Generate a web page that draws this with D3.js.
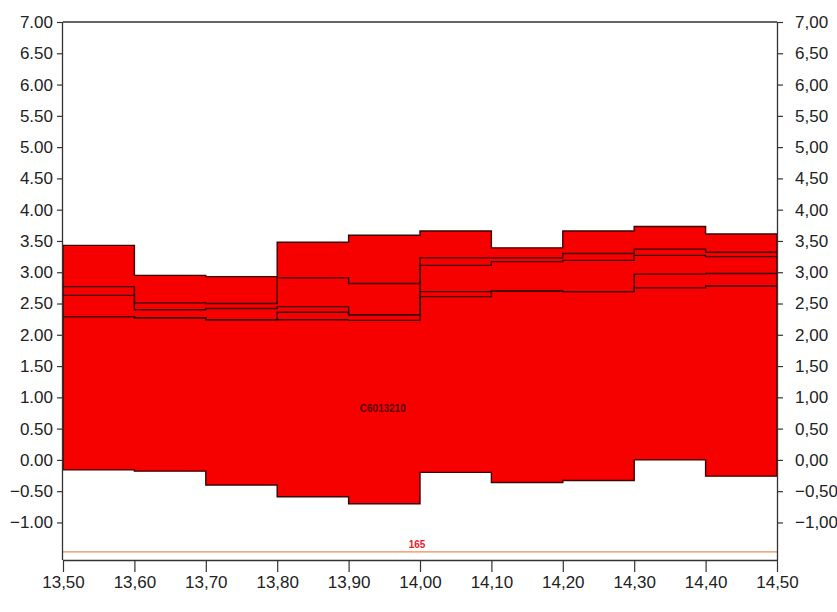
<!DOCTYPE html>
<html>
<head>
<meta charset="utf-8">
<script src="https://cdn.jsdelivr.net/npm/d3@7"></script>
<style>
  html, body { margin: 0; padding: 0; background: #ffffff; }
  svg { display: block; }
  text { font-family: "Liberation Sans", Arial, Helvetica, sans-serif; }
</style>
</head>
<body>
<svg id="chart" width="837" height="612"></svg>
<script>
// Bin start positions (each bin is 0.1 wide)
const binStarts = [13.5, 13.6, 13.7, 13.8, 13.9, 14.0, 14.1, 14.2, 14.3, 14.4];
const binWidth = 0.1;

// Envelope of the filled band
const upperValues = [3.43, 2.95, 2.93, 3.48, 3.59, 3.66, 3.39, 3.66, 3.73, 3.61];
const lowerValues = [-0.16, -0.18, -0.40, -0.59, -0.70, -0.20, -0.36, -0.33, 0.00, -0.26];

// Inner boundary lines, highest to lowest
const innerLine1 = [2.77, 2.51, 2.50, 2.91, 2.82, 3.23, 3.23, 3.30, 3.37, 3.32];
const innerLine2 = [2.63, 2.40, 2.42, 2.45, 2.32, 3.11, 3.17, 3.19, 3.27, 3.25];
const innerLine3 = [2.29, 2.27, 2.24, 2.36, 2.32, 2.69, 2.70, 2.69, 2.97, 2.98];
const innerLine4 = [2.29, 2.27, 2.24, 2.24, 2.23, 2.61, 2.70, 2.69, 2.75, 2.78];

// Reference level and annotations
const referenceLevel = -1.47;
const referenceLabel = "165";
const bandLabel = "C6013210";
const bandLabelPos = [13.948, 0.76];

// Tick labels
const xTicks = [13.5, 13.6, 13.7, 13.8, 13.9, 14.0, 14.1, 14.2, 14.3, 14.4, 14.5];
const yTicks = [-1.0, -0.5, 0, 0.5, 1.0, 1.5, 2.0, 2.5, 3.0, 3.5, 4.0, 4.5, 5.0, 5.5, 6.0, 6.5, 7.0];

const svg = d3.select("#chart");
const plotLeft = 63, plotRight = 777, plotTop = 22, plotBottom = 560;

const x = d3.scaleLinear().domain([13.5, 14.5]).range([plotLeft, plotRight]);
const y = d3.scaleLinear().domain([-1.6, 7.0]).range([plotBottom, plotTop]);

const fillColor = "#f60000";
const edgeColor = "#3c0000";

// Build step points for the band
const bandPts = [];
binStarts.forEach((s, i) => {
  bandPts.push({ x: s, lo: lowerValues[i], hi: upperValues[i] });
  bandPts.push({ x: s + binWidth, lo: lowerValues[i], hi: upperValues[i] });
});

const area = d3.area()
  .x(d => x(d.x))
  .y0(d => y(d.lo))
  .y1(d => y(d.hi));

svg.append("path")
  .datum(bandPts)
  .attr("d", area)
  .attr("fill", fillColor)
  .attr("stroke", edgeColor)
  .attr("stroke-width", 1.4);

function stepPoints(values) {
  const pts = [];
  binStarts.forEach((s, i) => {
    pts.push([s, values[i]]);
    pts.push([s + binWidth, values[i]]);
  });
  return pts;
}

const line = d3.line().x(d => x(d[0])).y(d => y(d[1]));

[innerLine1, innerLine2, innerLine3, innerLine4].forEach(vals => {
  svg.append("path")
    .datum(stepPoints(vals))
    .attr("d", line)
    .attr("fill", "none")
    .attr("stroke", edgeColor)
    .attr("stroke-width", 1.4);
});

// Band label
svg.append("text")
  .attr("x", x(bandLabelPos[0]))
  .attr("y", y(bandLabelPos[1]))
  .attr("text-anchor", "middle")
  .attr("font-size", 10)
  .attr("font-weight", "bold")
  .attr("fill", "#2a0000")
  .attr("fill-opacity", 0.8)
  .text(bandLabel);

// Reference line
svg.append("line")
  .attr("x1", x(13.5)).attr("x2", x(14.5))
  .attr("y1", y(referenceLevel)).attr("y2", y(referenceLevel))
  .attr("stroke", "#f08a5a")
  .attr("stroke-width", 1.4);

svg.append("text")
  .attr("x", x(14.0) - 3)
  .attr("y", y(referenceLevel) - 4)
  .attr("text-anchor", "middle")
  .attr("font-size", 10)
  .attr("font-weight", "bold")
  .attr("fill", "#ee1c1c")
  .text(referenceLabel);

// Frame
const axisColor = "#333";
svg.append("line").attr("x1", plotLeft).attr("x2", plotRight).attr("y1", plotTop).attr("y2", plotTop)
  .attr("stroke", axisColor).attr("stroke-width", 1.3);

// Left axis
const yAxisL = d3.axisLeft(y).tickValues(yTicks).tickSize(6).tickPadding(4)
  .tickFormat(d => d3.format(".2f")(d));
const gL = svg.append("g").attr("transform", `translate(${plotLeft},0)`).call(yAxisL);
gL.select(".domain").attr("d", `M-0.5,${plotTop}V${plotBottom}`).attr("stroke", axisColor).attr("stroke-width", 1.3);

// Right axis
const yAxisR = d3.axisRight(y).tickValues(yTicks).tickSize(6).tickPadding(12)
  .tickFormat(d => d3.format(".2f")(d).replace(".", ","));
const gR = svg.append("g").attr("transform", `translate(${plotRight},0)`).call(yAxisR);
gR.select(".domain").attr("d", `M0.5,${plotTop}V${plotBottom}`).attr("stroke", axisColor).attr("stroke-width", 1.3);

// Bottom axis
const xAxis = d3.axisBottom(x).tickValues(xTicks).tickSize(12).tickPadding(4)
  .tickFormat(d => d3.format(".2f")(d).replace(".", ","));
const gB = svg.append("g").attr("transform", `translate(0,${plotBottom})`).call(xAxis);
gB.select(".domain").attr("d", `M${plotLeft},0.5H${plotRight}`).attr("stroke", axisColor).attr("stroke-width", 1.5);

[gL, gR, gB].forEach(g => {
  g.selectAll(".tick line").attr("stroke", axisColor).attr("stroke-width", 1.2);
  g.selectAll(".tick text").attr("fill", "#222").attr("font-family", "'Liberation Sans', Arial, sans-serif");
});
gL.selectAll(".tick text").attr("font-size", 17);
gR.selectAll(".tick text").attr("font-size", 17);
gB.selectAll(".tick text").attr("font-size", 17);
</script>
</body>
</html>
